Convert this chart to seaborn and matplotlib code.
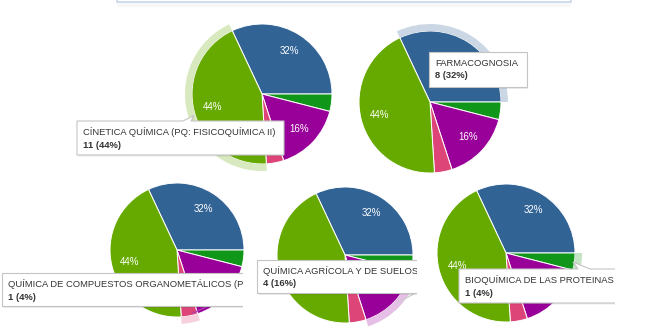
import numpy as np
import matplotlib
matplotlib.use("Agg")
import matplotlib.pyplot as plt
import seaborn as sns
from matplotlib.patches import Wedge, Polygon
from matplotlib.lines import Line2D

sns.set_theme(style="white")
plt.rcParams['font.family'] = ['Liberation Sans', 'DejaVu Sans']

# ---- data ----
# course names as far as they are visible in the tooltips
courses = ["FARMACOGNOSIA",
           "BIOQUÍMICA DE LAS PROTEINAS",
           "QUÍMICA AGRÍCOLA Y DE SUELOS (",
           "QUÍMICA DE COMPUESTOS ORGANOMETÁLICOS (PQ: ",
           "CÍNETICA QUÍMICA (PQ: FISICOQUÍMICA II)"]
counts = [8, 1, 4, 1, 11]
colors = ["#316395", "#109618", "#990099", "#dd4477", "#66aa00"]
hovered = [4, 0, 3, 2, 1]          # slice under the tooltip in each pie

W, H = 660, 330
fig = plt.figure(figsize=(6.6, 3.3), dpi=100)
fig.patch.set_facecolor("white")

# background axes in pixel coordinates (for the top panel border)
bg = fig.add_axes([0, 0, 1, 1])
bg.set_xlim(0, W); bg.set_ylim(H, 0); bg.axis("off")
bg.add_patch(plt.Rectangle((117, 2.5), 454, 4, facecolor="#000000", alpha=0.03, lw=0))
bg.add_line(Line2D([117, 117, 571, 571], [-1, 1.5, 1.5, -1], color="#c5d6ea", lw=1.2))

# panel layout: axes rect (x0, y0, x1, y1) in px, pie centre, radius, tooltip box, pointer
panels = [
    dict(rect=(60, 8, 345, 180), c=(262, 94), r=70, tip=(77, 121, 284, 155),
         ptr=(183, 191, (194, 115.5)), hide=[], conn=None),
    dict(rect=(345, 8, 560, 180), c=(430, 102), r=71, tip=(429, 52, 527, 87), ptr=None,
         hide=[0], conn=None),
    dict(rect=(0, 180, 243, 330), c=(177, 250), r=67, tip=(2, 273, 420, 306), ptr=None,
         hide=[2], conn=((193, 313), (210, 305), "#b040b0")),
    dict(rect=(245, 180, 417, 330), c=(345, 255), r=68, tip=(257, 260, 520, 293), ptr=None,
         hide=[2, 4], conn=((399, 302), (417, 292), "#cfcfcf")),
    dict(rect=(417, 180, 615, 330), c=(506, 253), r=69, tip=(459, 269, 640, 303),
         ptr=(578, 590, (573, 262)), hide=[2], conn=None),
]

start = counts[0] / sum(counts) * 360
halo = 7

for p, hv in zip(panels, hovered):
    x0, y0, x1, y1 = p["rect"]
    ax = fig.add_axes([x0 / W, 1 - y1 / H, (x1 - x0) / W, (y1 - y0) / H])
    cx, cy = p["c"]
    wedges, texts, autotexts = ax.pie(
        counts, colors=colors, startangle=start, counterclock=False,
        center=(cx, H - cy), radius=p["r"],
        wedgeprops=dict(edgecolor="white", linewidth=0.7),
        autopct=lambda v: f"{v:.0f}%" if v > 5 else "", pctdistance=0.73,
        textprops=dict(color="white", fontsize=7))
    for i in p["hide"]:
        autotexts[i].set_visible(False)
    ax.set_aspect("auto")
    ax.set_xlim(x0, x1)
    ax.set_ylim(H - y1, H - y0)
    ax.axis("off")
    w = wedges[hv]
    ax.add_patch(Wedge((cx, H - cy), p["r"] + halo, w.theta1, w.theta2, width=halo,
                       facecolor=colors[hv], alpha=0.25, lw=0))

    Y = lambda v: H - v
    if p["conn"] is not None:
        (ax_, ay_), (bx_, by_), cc = p["conn"]
        ax.add_line(Line2D([ax_, bx_], [Y(ay_), Y(by_)], color=cc, lw=1.0, zorder=4))

    # tooltip
    tx0, ty0, tx1, ty1 = p["tip"]
    pts = [(tx0, Y(ty0))]
    if p["ptr"] is not None:
        b0, b1, (px, py) = p["ptr"]
        pts += [(b0, Y(ty0)), (px, Y(py)), (b1, Y(ty0))]
    pts += [(tx1, Y(ty0)), (tx1, Y(ty1)), (tx0, Y(ty1))]
    shadow = Polygon([(x + 1, y - 1.5) for x, y in pts], closed=True,
                     facecolor="black", alpha=0.08, lw=0, zorder=5)
    ax.add_patch(shadow)
    ax.add_patch(Polygon(pts, closed=True, facecolor="white", edgecolor="#c4c4c4",
                         lw=0.8, zorder=6))
    ax.text(tx0 + 6, Y(ty0 + 11), courses[hv], fontsize=6.75, color="#333333",
            va="center", ha="left", zorder=7, clip_on=True)
    pct = counts[hv] / sum(counts) * 100
    ax.text(tx0 + 6, Y(ty0 + 24), f"{counts[hv]} ({pct:.0f}%)", fontsize=6.75,
            color="#333333", fontweight="bold", va="center", ha="left", zorder=7,
            clip_on=True)

fig.savefig("out.png", dpi=100, facecolor="white")
